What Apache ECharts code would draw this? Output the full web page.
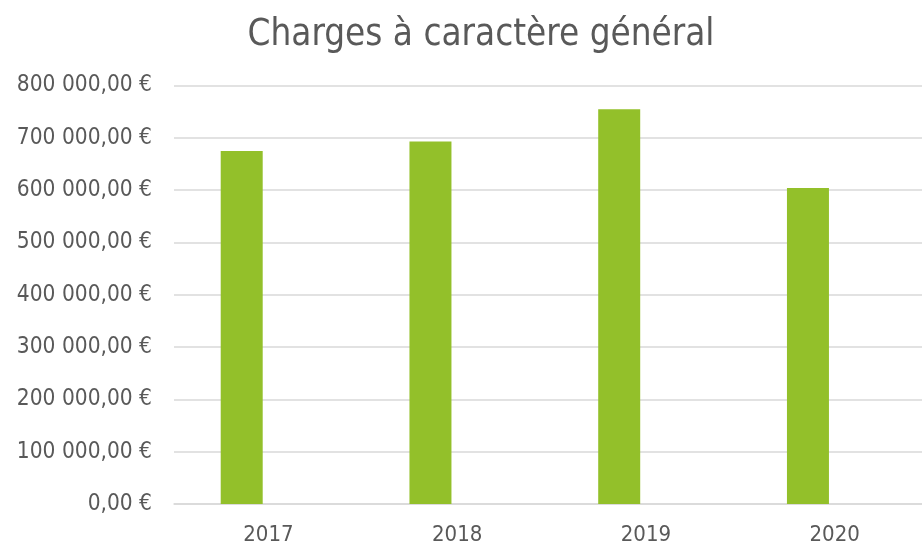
<!DOCTYPE html>
<html>
<head>
<meta charset="utf-8">
<script src="https://cdn.jsdelivr.net/npm/echarts@6/dist/echarts.min.js"></script>
<style>
html,body{margin:0;padding:0;background:#fff;}
#chart{width:922px;height:543px;}
</style>
</head>
<body>
<div id="chart"></div>
<script>
var titleText = 'Charges à caractère général';
var categories = ['2017', '2018', '2019', '2020'];
var chargesValues = [675000, 693000, 755000, 604000];
var emptySeriesValues = [null, null, null, null];
var yTickValues = [0, 100000, 200000, 300000, 400000, 500000, 600000, 700000, 800000];
var yTickLabels = ['0,00 €', '100 000,00 €', '200 000,00 €', '300 000,00 €', '400 000,00 €', '500 000,00 €', '600 000,00 €', '700 000,00 €', '800 000,00 €'];

var FONT = "'DejaVu Sans Condensed', 'DejaVu Sans', sans-serif";
var chart = echarts.init(document.getElementById('chart'));
chart.setOption({
  animation: false,
  backgroundColor: '#ffffff',
  title: {
    text: titleText,
    left: 476,
    textAlign: 'center',
    top: 12,
    textStyle: { fontFamily: FONT, fontSize: 36.5, fontWeight: 'normal', color: '#595959' }
  },
  grid: { left: 174, top: 85.6, width: 755, height: 418.4, containLabel: false, outerBoundsMode: 'none' },
  xAxis: {
    type: 'category',
    data: categories,
    axisLine: { show: true, lineStyle: { color: '#D9D9D9', width: 1.5 } },
    axisTick: { show: false },
    axisLabel: { fontFamily: FONT, fontSize: 22, color: '#595959', margin: 20 }
  },
  yAxis: {
    type: 'value',
    min: 0,
    max: 800000,
    interval: 100000,
    axisLine: { show: false },
    axisTick: { show: false },
    splitLine: { lineStyle: { color: '#D9D9D9', width: 1.5 } },
    axisLabel: {
      fontFamily: FONT, fontSize: 22.5, color: '#595959', margin: 22,
      formatter: function (v) {
        var i = yTickValues.indexOf(v);
        return i >= 0 ? yTickLabels[i] : '';
      }
    }
  },
  series: [
    {
      name: 'Charges',
      type: 'bar',
      data: chargesValues,
      barWidth: 42,
      barGap: '27%',
      itemStyle: { color: '#93C02A' }
    },
    {
      name: 'Autre',
      type: 'bar',
      data: emptySeriesValues,
      barWidth: 42,
      itemStyle: { color: '#93C02A' }
    }
  ]
});
</script>
</body>
</html>
